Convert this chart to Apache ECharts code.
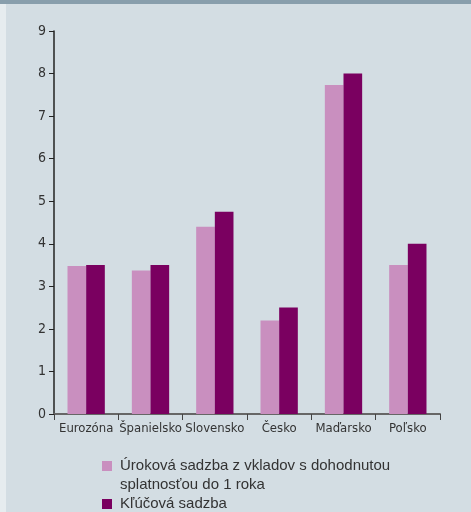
<!DOCTYPE html>
<html><head><meta charset="utf-8">
<script src="https://cdn.jsdelivr.net/npm/echarts@6/dist/echarts.min.js"></script>
<style>html,body{margin:0;padding:0;background:#d3dde3}#c{width:471px;height:512px}</style>
</head><body><div id="c"></div>
<script>
const categories = ['Eurozóna','Španielsko','Slovensko','Česko','Maďarsko','Poľsko'];
const depositRate = [3.48, 3.37, 4.4, 2.2, 7.73, 3.5];
const keyRate = [3.5, 3.5, 4.75, 2.5, 8.0, 4.0];
const seriesNames = ['Úroková sadzba z vkladov s dohodnutou splatnosťou do 1 roka', 'Kľúčová sadzba'];
const legendLine1 = 'Úroková sadzba z vkladov s dohodnutou';
const legendLine2 = 'splatnosťou do 1 roka';

const chart = echarts.init(document.getElementById('c'));
const font = '"DejaVu Sans Condensed", "Liberation Sans", sans-serif';
const legendBase = {
  orient:'vertical', left:102, padding:0, itemWidth:10, itemHeight:10, icon:'rect',
  formatter: n => n === seriesNames[0] ? legendLine1 : n,
  textStyle:{color:'#333', fontFamily:'Liberation Sans', fontSize:15, lineHeight:16, padding:[0,0,0,3]}
};
chart.setOption({
  backgroundColor: '#d3dde3',
  animation: false,
  graphic: [
    {type:'rect', shape:{x:0,y:0,width:6,height:512}, style:{fill:'#e6ecef'}, z:-1},
    {type:'rect', shape:{x:0,y:0,width:471,height:4}, style:{fill:'#889eac'}},
    {type:'text', left:120, top:477, style:{text: legendLine2, fill:'#333', font:'15px "Liberation Sans"'}}
  ],
  grid: {left:54, right:31, top:31, bottom:98, containLabel:false},
  legend: [
    Object.assign({}, legendBase, {top:458, data:[seriesNames[0]]}),
    Object.assign({}, legendBase, {top:496, data:[seriesNames[1]]})
  ],
  xAxis: {
    type:'category', data: categories,
    axisLine:{lineStyle:{color:'#666', width:2}},
    axisTick:{show:true, length:6, lineStyle:{color:'#444', width:1}},
    axisLabel:{color:'#333', fontFamily:font, fontSize:13, margin:8, interval:0}
  },
  yAxis: {
    type:'value', min:0, max:9, interval:1,
    axisLine:{show:true, lineStyle:{color:'#222', width:1.5}},
    axisTick:{show:true, length:5, lineStyle:{color:'#222'}},
    splitLine:{show:false},
    axisLabel:{color:'#333', fontFamily:font, fontSize:14, margin:8}
  },
  series: [
    {name: seriesNames[0], type:'bar', data: depositRate, itemStyle:{color:'#c98fbf'}, barGap:'0%', barCategoryGap:'42%'},
    {name: seriesNames[1], type:'bar', data: keyRate, itemStyle:{color:'#7a0060'}, barGap:'0%', barCategoryGap:'42%'}
  ]
});
</script></body></html>
